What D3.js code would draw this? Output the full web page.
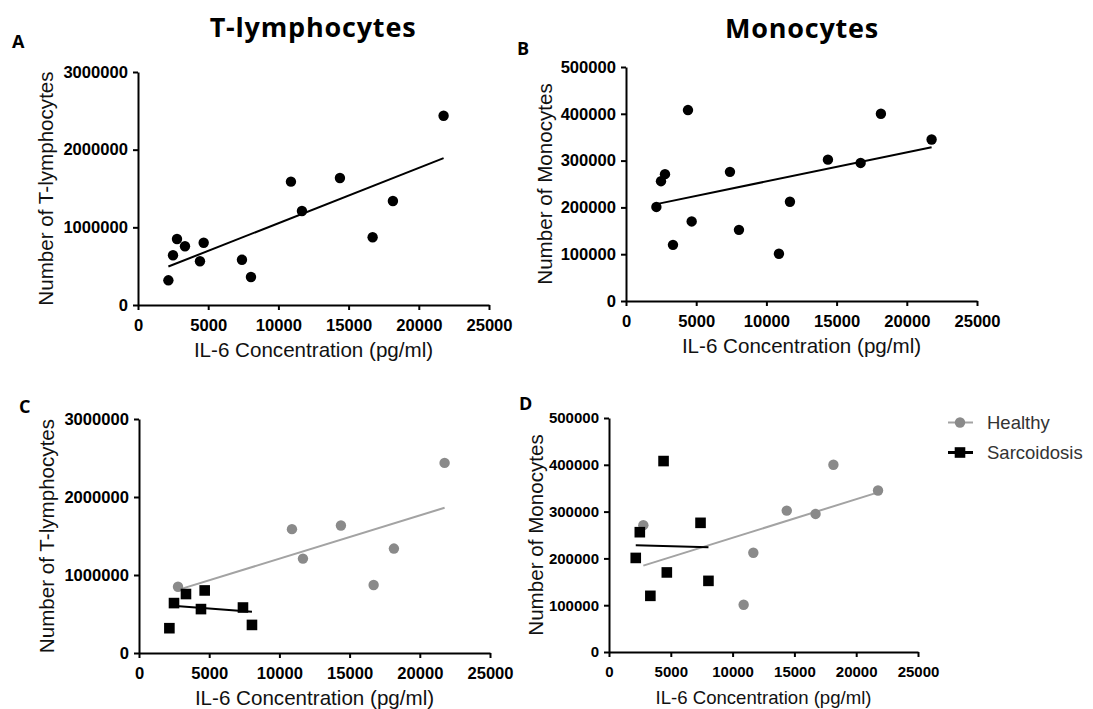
<!DOCTYPE html>
<html>
<head>
<meta charset="utf-8">
<script src="https://cdn.jsdelivr.net/npm/d3@7"></script>
<style>
  html, body { margin: 0; padding: 0; background: #fff; }
  svg { display: block; }
</style>
</head>
<body>
<svg id="chart" width="1093" height="709"></svg>
<script>
// IL-6 concentration per donor (pg/ml)
const il6 = [2164, 2493, 2777, 3346, 4414, 4678, 7405, 8046, 10894, 11677, 14382, 16711, 18156, 21766];
// Cell counts per donor
const tLymphocytes = [318000, 640000, 850000, 756000, 563000, 802000, 583000, 360000, 1588000, 1210000, 1635000, 872000, 1339000, 2437000];
const monocytes = [201000, 256000, 271000, 120000, 408000, 170000, 276000, 152000, 101000, 212000, 302000, 295000, 400000, 345000];
// Donor group
const donorGroup = ["Sarcoidosis", "Sarcoidosis", "Healthy", "Sarcoidosis", "Sarcoidosis", "Sarcoidosis", "Sarcoidosis",
                    "Sarcoidosis", "Healthy", "Healthy", "Healthy", "Healthy", "Healthy", "Healthy"];
const groups = ["Healthy", "Sarcoidosis"];

// Axis ticks
const il6Ticks = [0, 5000, 10000, 15000, 20000, 25000];
const tLymphTicks = [0, 1000000, 2000000, 3000000];
const monoTicks = [0, 100000, 200000, 300000, 400000, 500000];

// Column titles
const columnTitles = ["T-lymphocytes", "Monocytes"];

const SANS = "Arial, 'Liberation Sans', Helvetica, sans-serif";
const HEAD = "'Open Sans', 'Noto Sans', sans-serif";

const groupStyle = {
  All: { color: "#000", line: "#000", shape: "circle" },
  Healthy: { color: "#8a8a8a", line: "#a3a3a3", shape: "circle" },
  Sarcoidosis: { color: "#000", line: "#000", shape: "square" }
};

const svg = d3.select("#chart");

// Least-squares line across the x range of the given points
function fitLine(xs, ys) {
  const mx = d3.mean(xs), my = d3.mean(ys);
  let sxy = 0, sxx = 0;
  xs.forEach((x, i) => { sxy += (x - mx) * (ys[i] - my); sxx += (x - mx) * (x - mx); });
  const slope = sxy / sxx, icpt = my - slope * mx;
  const x0 = d3.min(xs), x1 = d3.max(xs);
  return [[x0, icpt + slope * x0], [x1, icpt + slope * x1]];
}

const panels = [
  { letter: "A", lx: 12, ly: 48, x0: 138, x1: 489, yTop: 72, yBot: 305, yVals: tLymphocytes, yTicks: tLymphTicks,
    yLabel: "Number of T-lymphocytes", split: false, tickFont: 16.6, xLabelFont: 20.6, yLabelX: 53 },
  { letter: "B", lx: 517, ly: 55, x0: 626, x1: 977, yTop: 67, yBot: 301, yVals: monocytes, yTicks: monoTicks,
    yLabel: "Number of Monocytes", split: false, tickFont: 16.6, xLabelFont: 20.6, yLabelX: 552 },
  { letter: "C", lx: 19, ly: 413, x0: 139, x1: 490, yTop: 419, yBot: 653, yVals: tLymphocytes, yTicks: tLymphTicks,
    yLabel: "Number of T-lymphocytes", split: true, tickFont: 16.6, xLabelFont: 20.6, yLabelX: 54 },
  { letter: "D", lx: 519, ly: 410, x0: 609, x1: 918, yTop: 418, yBot: 652, yVals: monocytes, yTicks: monoTicks,
    yLabel: "Number of Monocytes", split: true, tickFont: 15, xLabelFont: 18.6, yLabelX: 543 }
];

function drawMarker(sel, shape, color) {
  if (shape === "circle") {
    sel.append("circle").attr("r", 5.2).attr("fill", color);
  } else {
    sel.append("rect").attr("x", -5.3).attr("y", -5.3).attr("width", 10.6).attr("height", 10.6).attr("fill", color);
  }
}

panels.forEach(p => {
  const x = d3.scaleLinear().domain([0, 25000]).range([p.x0, p.x1]);
  const y = d3.scaleLinear().domain([0, d3.max(p.yTicks)]).range([p.yBot, p.yTop]);
  const g = svg.append("g");

  // Axes
  const xAxis = d3.axisBottom(x).tickValues(il6Ticks).tickFormat(d3.format("d")).tickSize(5).tickSizeOuter(0).tickPadding(6);
  const yAxis = d3.axisLeft(y).tickValues(p.yTicks).tickFormat(d3.format("d")).tickSize(5).tickSizeOuter(0).tickPadding(5);

  const gx = g.append("g").attr("transform", `translate(0,${p.yBot})`).call(xAxis);
  const gy = g.append("g").attr("transform", `translate(${p.x0},0)`).call(yAxis);
  [gx, gy].forEach(a => {
    a.attr("font-family", null).attr("font-size", null);
    a.select(".domain").attr("stroke", "#000").attr("stroke-width", 2);
    a.selectAll(".tick line").attr("stroke", "#000").attr("stroke-width", 2);
    a.selectAll(".tick text")
      .style("font-family", SANS).style("font-weight", "bold")
      .style("font-size", p.tickFont + "px").attr("fill", "#000");
  });
  gx.selectAll(".tick text").attr("dy", "0.9em");

  // Axis titles
  g.append("text")
    .attr("x", (p.x0 + p.x1) / 2).attr("y", p.yBot + 52)
    .attr("text-anchor", "middle")
    .style("font-family", SANS).style("font-size", p.xLabelFont + "px").attr("fill", "#111")
    .text("IL-6 Concentration (pg/ml)");
  g.append("text")
    .attr("transform", `translate(${p.yLabelX},${(p.yTop + p.yBot) / 2}) rotate(-90)`)
    .attr("text-anchor", "middle")
    .style("font-family", SANS).style("font-size", "20.6px").attr("fill", "#111")
    .text(p.yLabel);

  // Panel letter
  g.append("text").attr("x", p.lx).attr("y", p.ly)
    .style("font-family", HEAD).style("font-weight", "bold").style("font-size", "18px")
    .text(p.letter);

  const pts = il6.map((v, i) => ({ x: v, y: p.yVals[i], group: p.split ? donorGroup[i] : "All" }));
  const series = p.split ? groups : ["All"];

  // Regression lines
  series.forEach(s => {
    const sub = pts.filter(d => d.group === s);
    const seg = fitLine(sub.map(d => d.x), sub.map(d => d.y));
    g.append("line")
      .attr("x1", x(seg[0][0])).attr("y1", y(seg[0][1]))
      .attr("x2", x(seg[1][0])).attr("y2", y(seg[1][1]))
      .attr("stroke", groupStyle[s].line).attr("stroke-width", 2);
  });

  // Points: healthy drawn first, sarcoidosis on top
  series.forEach(s => {
    g.selectAll(null).data(pts.filter(d => d.group === s)).enter()
      .append("g").attr("transform", d => `translate(${x(d.x)},${y(d.y)})`)
      .each(function () { drawMarker(d3.select(this), groupStyle[s].shape, groupStyle[s].color); });
  });
});

// Column titles
svg.append("text").attr("x", 313).attr("y", 37).attr("text-anchor", "middle")
  .style("font-family", HEAD).style("font-weight", "bold")
  .style("font-size", "27px").style("letter-spacing", "0.8px").text(columnTitles[0]);
svg.append("text").attr("x", 802).attr("y", 38).attr("text-anchor", "middle")
  .style("font-family", HEAD).style("font-weight", "bold")
  .style("font-size", "27px").style("letter-spacing", "0.8px").text(columnTitles[1]);

// Legend
const legend = svg.append("g");
groups.forEach((s, i) => {
  const ly = 422.5 + i * 30;
  const row = legend.append("g").attr("transform", `translate(960,${ly})`);
  row.append("line").attr("x1", -12).attr("x2", 13).attr("y1", 0).attr("y2", 0)
    .attr("stroke", groupStyle[s].line).attr("stroke-width", s === "Healthy" ? 2 : 3);
  drawMarker(row, groupStyle[s].shape, groupStyle[s].color);
  row.append("text").attr("x", 27).attr("y", 6.5)
    .style("font-family", SANS).style("font-size", "18.5px").attr("fill", "#333")
    .text(s);
});
</script>
</body>
</html>
